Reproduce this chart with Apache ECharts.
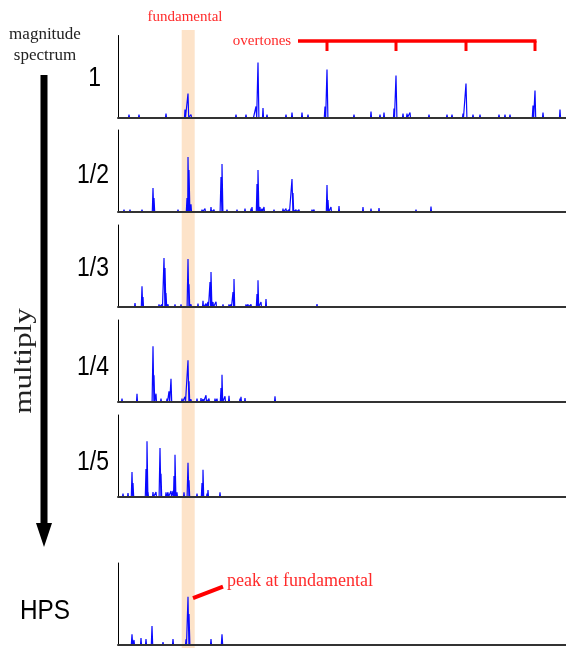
<!DOCTYPE html>
<html>
<head>
<meta charset="utf-8">
<script src="https://cdn.jsdelivr.net/npm/echarts@6/dist/echarts.min.js"></script>
<style>
html,body{margin:0;padding:0;background:#fff;}
#c{width:566px;height:648px;}
</style>
</head>
<body>
<div id="c"></div>
<script>
// frequency bins (fundamental at bin 70), magnitudes in arbitrary units (panel full scale = 82)
const panelLabels = ['1', '1/2', '1/3', '1/4', '1/5', 'HPS'];
const fundamentalBin = 70;
const overtoneTicks = [209, 278, 348, 417];
const overtoneBracketStart = 180;
const binMax = 448;
const magMax = 82;

const spectrum1 = [[11,3],[21,3],[23,2],[48,4],[58,1],[67,8],[70,24],[73,3],[100,1],[118,3],[128,3],[136,2],[138,11],[140,55],[145,9.5],[149,3],[155,2],[168,3],[174,5],[184,5],[190,3],[207,11],[209,48],[217,2],[229,1],[236,3],[253,6],[262,3],[266,5],[276,9],[278,42],[285,4],[289,4],[292,5],[311,3],[329,3],[334,3],[340,2],[345,4],[348,34],[355,3],[362,3],[371,2],[381,3],[387,3],[392,3],[415,12],[417,27],[425,5],[432,2],[442,8]];
const spectrum2 = [[6,2.3],[12,2.3],[24,2.3],[35,24],[36,14],[49,1],[60,2.3],[69,14],[70,55],[71,42],[73,7.7],[84,2.3],[87,3.3],[93,5],[96,2.3],[103,35],[104,48],[109,2.3],[119,2.3],[127,3.3],[133,3.3],[134,5],[139,28],[140,42],[142,5],[144,3.3],[146,5],[156,2.3],[165,3.3],[168,3.3],[171,2.3],[174,33],[175,19],[178,2.3],[181,2.3],[186,1.3],[190,1.3],[194,2.3],[196,2.3],[209,27],[210,12],[213,5],[217,1],[221,6],[235,1.3],[245,5],[253,3.5],[261,3.8],[265,1.3],[278,1.3],[298,2.5],[313,5.5]];
const spectrum3 = [[17,4],[24,20.7],[25,10],[34,1],[41,2.7],[44,2.7],[46,49],[47,39],[48,14],[50,2.7],[57,2.7],[63,2.7],[70,48],[71,22.7],[73,2.7],[80,3.3],[85,6.3],[88,3.3],[90,5],[92,25],[93,35],[95,5],[98,5.3],[105,2.7],[111,2.7],[113,2.7],[115,15],[116,28],[121,2],[128,2.7],[130,2.7],[133,2.7],[139,13],[140,26.7],[143,5],[145,2],[148,8],[158,1.3],[163,1.3],[169,1.7],[177,1.3],[199,3],[209,1.7]];
const spectrum4 = [[4,3.3],[19,8.3],[35,55.7],[36,26.7],[38,8.3],[43,3.3],[49,3.3],[51,10.7],[53,23.3],[64,3.3],[67,5.3],[70,41.7],[71,20.7],[73,2.7],[79,3.3],[83,4],[85,3],[88,6.7],[91,3.3],[97,3.3],[99,3.3],[103,14],[104,27.3],[107,5.7],[111,6.3],[119,1.3],[122,3.3],[123,5.3],[127,4],[134,2],[157,5.7]];
const spectrum5 = [[5,3.3],[10,4],[14,25],[15,14],[19,1.3],[28,28],[29,55.7],[30,5],[35,5],[38,5],[42,49],[43,23.3],[48,4.7],[50,4.7],[53,6],[55,6],[56,21],[57,42.3],[59,4.7],[66,4.7],[70,34.3],[71,16.7],[79,3.3],[84,14],[85,27.3],[89,3.3],[90,7],[102,4.7],[108,1.7]];
const hpsSpectrum = [[14,10.7],[16,5],[23,7],[28,6],[34,19],[42,2],[45,3],[55,6],[68,5.7],[70,48.3],[71,31],[93,6],[104,10.7]];

const spectra = [spectrum1, spectrum2, spectrum3, spectrum4, spectrum5, hpsSpectrum];

// layout
const gridTops = [35.5, 130, 225, 320, 415, 563];
const gridH = 82;

function spikes(peaks) {
  const sorted = peaks.slice().sort((a, b) => a[0] - b[0]);
  const pts = [[0, 0]];
  sorted.forEach(([b, h]) => {
    const w = h > 30 ? 0.9 : (h > 10 ? 0.7 : 0.5);
    pts.push([b - w, 0], [b, h], [b + w, 0]);
  });
  pts.push([binMax, 0]);
  return pts;
}

const chart = echarts.init(document.getElementById('c'), null, {renderer: 'canvas'});

const grids = [], xAxes = [], yAxes = [], series = [];
spectra.forEach((sp, i) => {
  grids.push({left: 118, right: 0, top: gridTops[i], height: gridH, containLabel: false});
  xAxes.push({
    type: 'value', gridIndex: i, min: 0, max: binMax, z: 5,
    axisLine: {show: true, onZero: false, lineStyle: {color: '#333', width: 2}},
    axisTick: {show: false}, axisLabel: {show: false}, splitLine: {show: false}
  });
  yAxes.push({
    type: 'value', gridIndex: i, min: 0, max: magMax, z: 5,
    axisLine: {show: true, lineStyle: {color: '#000', width: 1}},
    axisTick: {show: false}, axisLabel: {show: false}, splitLine: {show: false}
  });
  series.push({
    type: 'line', xAxisIndex: i, yAxisIndex: i, data: spikes(sp),
    symbol: 'none', silent: true, animation: false,
    lineStyle: {color: '#0a0aff', width: 1.2}
  });
});

chart.setOption({
  animation: false,
  backgroundColor: '#fff',
  grid: grids, xAxis: xAxes, yAxis: yAxes, series: series
});

const px = (g, v) => chart.convertToPixel({gridIndex: g}, v);

const serif = '"Liberation Serif", "Times New Roman", serif';
const sans = '"Liberation Sans", Arial, sans-serif';
const red = '#ff2a2a';

const graphics = [];
// fundamental band
const bandL = px(0, [fundamentalBin - 6.3, 0])[0];
const bandR = px(0, [fundamentalBin + 6.7, 0])[0];
graphics.push({type: 'rect', z: -100, shape: {x: bandL, y: 30, width: bandR - bandL, height: 620}, style: {fill: '#fde3c9'}});

// titles
graphics.push({type: 'text', x: 185, y: 17, style: {text: 'fundamental', font: '15px ' + serif, fill: red, textAlign: 'center', textVerticalAlign: 'middle'}});
graphics.push({type: 'text', x: 262, y: 41, style: {text: 'overtones', font: '15px ' + serif, fill: red, textAlign: 'center', textVerticalAlign: 'middle'}});
graphics.push({type: 'text', x: 45, y: 35, style: {text: 'magnitude', font: '17px ' + serif, fill: '#222', textAlign: 'center', textVerticalAlign: 'middle'}});
graphics.push({type: 'text', x: 45, y: 56, style: {text: 'spectrum', font: '17px ' + serif, fill: '#222', textAlign: 'center', textVerticalAlign: 'middle'}});

// overtone bracket
const bx0 = px(0, [overtoneBracketStart, 0])[0];
const bx1 = px(0, [overtoneTicks[overtoneTicks.length - 1], 0])[0];
graphics.push({type: 'line', shape: {x1: bx0, y1: 41, x2: bx1 + 1.5, y2: 41}, style: {stroke: '#ff0000', lineWidth: 3.5}});
overtoneTicks.forEach(t => {
  const x = px(0, [t, 0])[0];
  graphics.push({type: 'line', shape: {x1: x, y1: 41, x2: x, y2: 51}, style: {stroke: '#ff0000', lineWidth: 3}});
});

// panel labels
const labelRight = [101, 109, 109, 109, 109];
const labelY = [78, 175, 268, 367, 462];
panelLabels.forEach((lab, i) => {
  if (i < 5) {
    graphics.push({type: 'text', x: labelRight[i], y: labelY[i], scaleX: 0.82, style: {text: lab, font: '28px ' + sans, fill: '#000', textAlign: 'right', textVerticalAlign: 'middle'}});
  } else {
    graphics.push({type: 'text', x: 45, y: 611, scaleX: 0.87, style: {text: lab, font: '28px ' + sans, fill: '#000', textAlign: 'center', textVerticalAlign: 'middle'}});
  }
});

// multiply arrow
graphics.push({type: 'rect', shape: {x: 40.5, y: 75, width: 7, height: 450}, style: {fill: '#000'}});
graphics.push({type: 'polygon', shape: {points: [[36, 523], [52, 523], [44, 547]]}, style: {fill: '#000'}});
graphics.push({type: 'text', x: 24, y: 361, rotation: Math.PI / 2, scaleX: 1.2, style: {text: 'multiply', font: '26px ' + serif, fill: '#222', textAlign: 'center', textVerticalAlign: 'middle'}});

// peak at fundamental pointer
const hpsPeak = hpsSpectrum.reduce((a, b) => (b[1] > a[1] ? b : a));
const pp = px(5, hpsPeak);
graphics.push({type: 'line', shape: {x1: pp[0] + 5, y1: pp[1] + 1.5, x2: pp[0] + 35, y2: pp[1] - 10}, style: {stroke: '#ff0000', lineWidth: 4}});
graphics.push({type: 'text', x: pp[0] + 39, y: pp[1] - 15, style: {text: 'peak at fundamental', font: '18px ' + serif, fill: red, textAlign: 'left', textVerticalAlign: 'middle'}});

chart.setOption({graphic: graphics});
</script>
</body>
</html>
